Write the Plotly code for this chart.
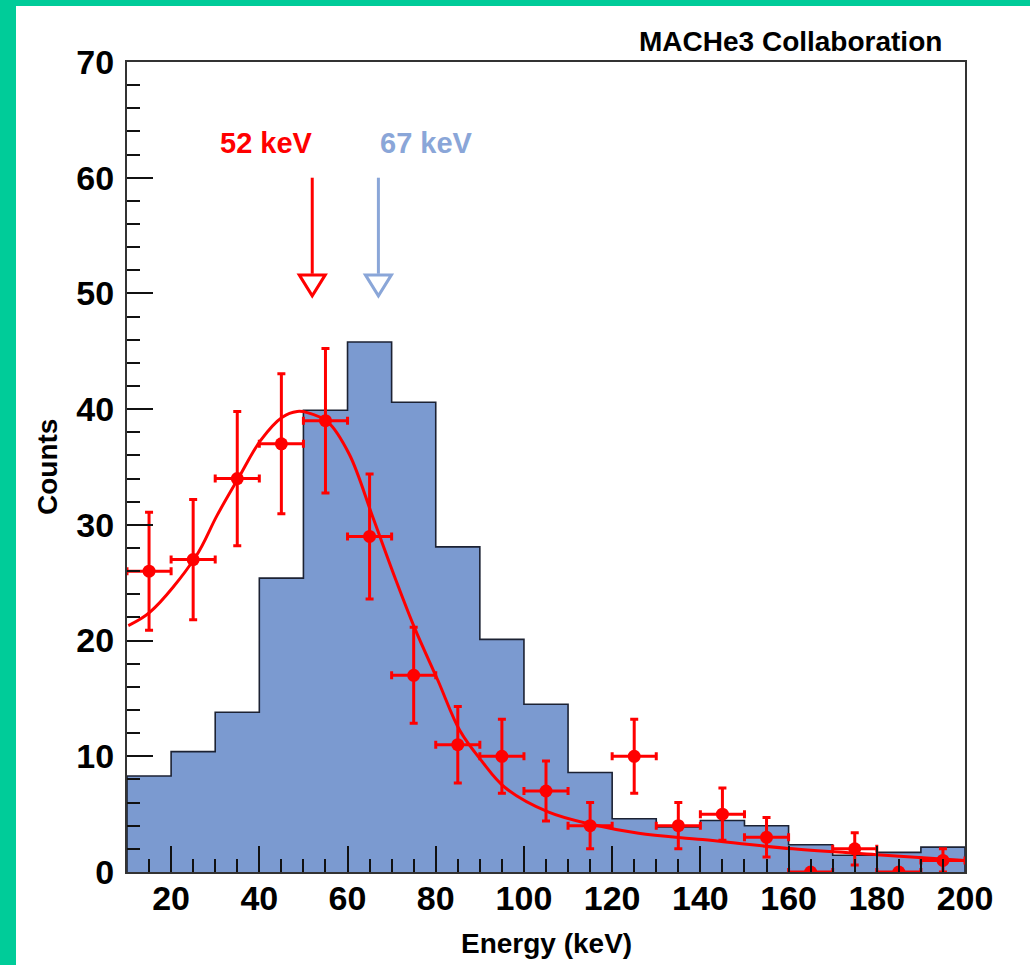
import plotly.graph_objects as go

# ---------------- data ----------------
bin_edges = [10, 20, 30, 40, 50, 60, 70, 80, 90, 100, 110, 120, 130, 140, 150, 160, 170, 180, 190, 200]
sim_counts = [8.3, 10.4, 13.8, 25.4, 39.9, 45.8, 40.6, 28.1, 20.1, 14.5, 8.6, 4.6, 3.9, 4.45, 4.0, 2.35, 1.45, 1.7, 2.15]

data_energy = [15, 25, 35, 45, 55, 65, 75, 85, 95, 105, 115, 125, 135, 145, 155, 165, 175, 185, 195]
data_counts = [26, 27, 34, 37, 39, 29, 17, 11, 10, 7, 4, 10, 4, 5, 3, 0, 2, 0, 1]
data_err = [5.1, 5.2, 5.8, 6.05, 6.25, 5.4, 4.15, 3.3, 3.2, 2.6, 2.0, 3.2, 2.0, 2.25, 1.7, 0, 1.4, 0, 1.0]
energy_halfbin = 5

fit_energy = [10.3, 15.2, 25.5, 30.4, 35.35, 40.3, 45.2, 48.6, 50.9, 55.5, 60.4, 65.7, 70.7,
              75.2, 80.5, 85.5, 90.4, 95.7, 105.6, 115.5, 126, 140.5, 161, 180, 200]
fit_counts = [21.3, 22.45, 27.2, 30.8, 34.1, 37.3, 39.3, 39.8, 39.7, 38.9, 36.1, 30.7, 25.5,
              21.1, 16.55, 12.2, 9.6, 7.3, 5.17, 4.1, 3.35, 2.8, 2.0, 1.5, 1.0]

peak_energy = [52, 67]
peak_labels = ["52 keV", "67 keV"]
arrow_top = 60
arrow_tip = 49.7

x_ticks = [20, 40, 60, 80, 100, 120, 140, 160, 180, 200]
y_ticks = [0, 10, 20, 30, 40, 50, 60, 70]

# ---------------- style ----------------
RED = "#FF0000"
BLUE_FILL = "#7B9AD0"
BLUE_ARROW = "#8AA6D8"
GREEN = "#00CC99"
FONT = "Liberation Sans, Arial, Helvetica, sans-serif"

W, H = 1030, 965
ML, MR, MT, MB = 127, 65, 62, 93
PW, PH = W - ML - MR, H - MT - MB

fig = go.Figure()

# step histogram built from bin edges and counts
step_x = [bin_edges[0]] + list(bin_edges) + [bin_edges[-1]]
step_y = [0] + list(sim_counts) + [sim_counts[-1], 0]
fig.add_trace(go.Scatter(
    x=step_x, y=step_y, mode="lines", line=dict(shape="hv", color="#1c2233", width=1.6),
    fill="tozeroy", fillcolor=BLUE_FILL, hoverinfo="skip", showlegend=False))

# fit curve
fig.add_trace(go.Scatter(
    x=fit_energy, y=fit_counts, mode="lines",
    line=dict(color=RED, width=3, shape="spline", smoothing=1.0),
    showlegend=False))

# data points
fig.add_trace(go.Scatter(
    x=data_energy, y=data_counts, mode="markers",
    marker=dict(color=RED, size=13, symbol="circle"),
    error_x=dict(type="constant", value=energy_halfbin, color=RED, thickness=3, width=4),
    error_y=dict(type="data", array=data_err, color=RED, thickness=3, width=4),
    showlegend=False))

shapes = []
# green frame strips (page border)
shapes.append(dict(type="rect", xref="paper", yref="paper",
                   x0=-ML / PW, x1=(16 - ML) / PW, y0=-MB / PH, y1=1 + MT / PH,
                   fillcolor=GREEN, line=dict(width=0), layer="above"))
shapes.append(dict(type="rect", xref="paper", yref="paper",
                   x0=-ML / PW, x1=1 + MR / PW, y0=1 + (MT - 6) / PH, y1=1 + MT / PH,
                   fillcolor=GREEN, line=dict(width=0), layer="above"))

arrow_cols = [RED, BLUE_ARROW]
for e, c in zip(peak_energy, arrow_cols):
    shapes.append(dict(type="line", xref="x", yref="y", x0=e, x1=e, y0=arrow_top, y1=arrow_tip + 2,
                       line=dict(color=c, width=3)))
    shapes.append(dict(type="path", xref="x", yref="y", xsizemode="pixel", ysizemode="pixel",
                       xanchor=e, yanchor=arrow_tip,
                       path="M -13 22 L 13 22 L 0 1 Z",
                       fillcolor="white", line=dict(color=c, width=3)))

annotations = []
annotations.append(dict(x=peak_energy[0], y=63, xref="x", yref="y", text=peak_labels[0],
                        showarrow=False, xanchor="right", yanchor="middle", xshift=3,
                        font=dict(family=FONT, size=29, color=RED, weight="bold")))
annotations.append(dict(x=peak_energy[1], y=63, xref="x", yref="y", text=peak_labels[1],
                        showarrow=False, xanchor="left", yanchor="middle",
                        font=dict(family=FONT, size=29, color=BLUE_ARROW, weight="bold")))
annotations.append(dict(x=(944 - ML) / PW, y=1 + (MT - 42) / PH, xref="paper", yref="paper",
                        text="MACHe3 Collaboration", showarrow=False, xanchor="right", yanchor="middle",
                        font=dict(family=FONT, size=28, color="black", weight="bold")))
annotations.append(dict(x=0.5, y=-(944 - (H - MB)) / PH, xref="paper", yref="paper",
                        text="Energy (keV)", showarrow=False, xanchor="center", yanchor="middle",
                        font=dict(family=FONT, size=28, color="black", weight="bold")))
annotations.append(dict(x=-(ML - 47) / PW, y=0.5, xref="paper", yref="paper",
                        text="Counts", showarrow=False, textangle=-90, xanchor="center", yanchor="middle",
                        font=dict(family=FONT, size=28, color="black", weight="bold")))

fig.update_layout(
    width=W, height=H,
    margin=dict(l=ML, r=MR, t=MT, b=MB, pad=0),
    paper_bgcolor="white", plot_bgcolor="white",
    shapes=shapes, annotations=annotations,
    showlegend=False,
)

fig.update_xaxes(
    range=[10, 200], tickvals=x_ticks, ticktext=[str(v) for v in x_ticks],
    ticks="inside", ticklen=26, tickwidth=1.5, tickcolor="#111",
    minor=dict(ticks="inside", ticklen=13, dtick=5, tick0=0, tickwidth=1.5, tickcolor="#111", showgrid=False),
    showline=True, linecolor="#333", linewidth=2, mirror=True,
    showgrid=False, zeroline=False,
    tickfont=dict(family=FONT, size=34, color="black", weight="bold"),
    ticklabelstandoff=-5, layer="above traces",
)
fig.update_yaxes(
    range=[0, 70], tickvals=y_ticks, ticktext=[str(v) for v in y_ticks],
    ticks="inside", ticklen=26, tickwidth=1.5, tickcolor="#111",
    minor=dict(ticks="inside", ticklen=13, dtick=2, tick0=0, tickwidth=1.5, tickcolor="#111", showgrid=False),
    showline=True, linecolor="#333", linewidth=2, mirror=True,
    showgrid=False, zeroline=False,
    tickfont=dict(family=FONT, size=34, color="black", weight="bold"),
    ticklabelstandoff=4, layer="above traces",
)

fig.write_html("out.html")
